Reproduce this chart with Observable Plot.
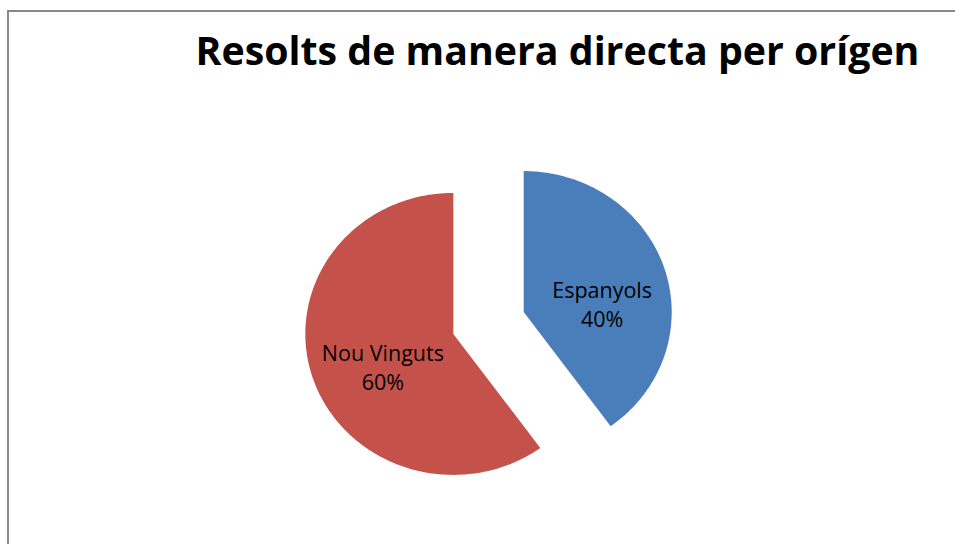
<!DOCTYPE html>
<html><head><meta charset="utf-8">
<script src="https://cdn.jsdelivr.net/npm/d3@7"></script>
<script src="https://cdn.jsdelivr.net/npm/@observablehq/plot@0.6"></script>
<style>
body{margin:0;background:#fff;}
#wrap{position:relative;width:955px;height:544px;overflow:hidden;background:#fff;}
#wrap svg{position:absolute;left:0;top:0;}
#border{position:absolute;left:7px;top:10px;width:2000px;height:2000px;border-left:2px solid #898989;border-top:2px solid #898989;}
</style></head><body><div id="wrap"><div id="border"></div></div>
<script>
const title = "Resolts de manera directa per orígen";
const categories = ["Espanyols", "Nou Vinguts"];
const values = [40, 60];
const colors = ["#4a7ebb", "#c4524a"];

const total = d3.sum(values);
const arcs = d3.pie().sort(null).value(d => d)(values);
const explode = 0.25;
const polys = [];
const labels = [];
arcs.forEach((p, i) => {
  const mid = (p.startAngle + p.endAngle) / 2;
  const ox = explode * Math.sin(mid), oy = explode * Math.cos(mid);
  polys.push({cat: categories[i], x: ox, y: oy});
  const n = 180;
  for (let k = 0; k <= n; k++) {
    const a = p.startAngle + (p.endAngle - p.startAngle) * k / n;
    polys.push({cat: categories[i], x: ox + Math.sin(a), y: oy + Math.cos(a)});
  }
  polys.push({cat: categories[i], x: ox, y: oy});
  labels.push({cat: categories[i], x: ox + 0.55 * Math.sin(mid), y: oy + 0.55 * Math.cos(mid),
    text: `${categories[i]}\n${Math.round(values[i] / total * 100)}%`});
});

const W = 955, H = 544, cx = 488, cy = 322.5, rx = 148, ry = 141;
const labelStyle = {x: "x", y: "y", text: "text", fontSize: 21.5, fontFamily: "Open Sans", fill: "#000", lineHeight: 1.38, lineAnchor: "middle", textAnchor: "middle"};

const chart = Plot.plot({
  width: W, height: H,
  margin: 0,
  style: {background: "transparent", fontFamily: "Open Sans"},
  x: {domain: [-cx / rx, (W - cx) / rx], range: [0, W], axis: null},
  y: {domain: [(cy - H) / ry, cy / ry], range: [H, 0], axis: null},
  color: {domain: categories, range: colors},
  marks: [
    Plot.line(polys, {x: "x", y: "y", z: "cat", fill: "cat", stroke: "none", curve: "linear"}),
    Plot.text(labels.filter(d => d.cat === categories[0]), {...labelStyle, dx: 1, dy: 15}),
    Plot.text(labels.filter(d => d.cat === categories[1]), {...labelStyle, dx: 7, dy: 8}),
    Plot.text([title], {text: d => d, frameAnchor: "top-left", dx: 195, dy: 37, lineAnchor: "top", textAnchor: "start", fontSize: 39.3, fontWeight: "bold", fontFamily: "Open Sans", fill: "#000"})
  ]
});
document.getElementById("wrap").appendChild(chart);
</script></body></html>
